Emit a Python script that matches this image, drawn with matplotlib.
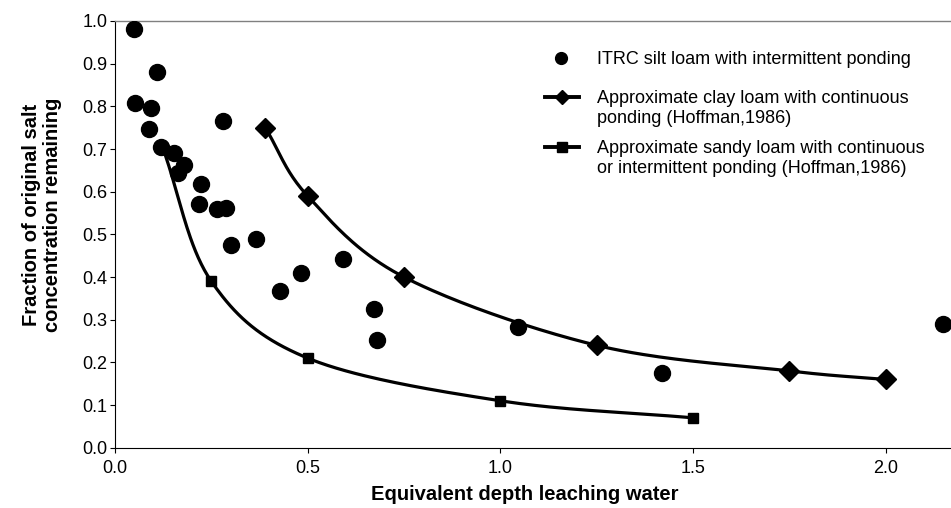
import numpy as np
import matplotlib
matplotlib.use("Agg")
import matplotlib.pyplot as plt
from matplotlib.lines import Line2D

plt.rcParams["font.family"] = ["Liberation Sans", "DejaVu Sans"]

# ── Data ──────────────────────────────────────────────────────────────────────
itrc_x = [0.049, 0.053, 0.093, 0.108, 0.088, 0.120, 0.153, 0.164, 0.179, 0.223,
          0.219, 0.264, 0.288, 0.281, 0.301, 0.365, 0.429, 0.484, 0.592, 0.673,
          0.679, 1.045, 1.420, 2.150]
itrc_y = [0.981, 0.808, 0.797, 0.881, 0.746, 0.704, 0.691, 0.644, 0.662, 0.619,
          0.570, 0.559, 0.562, 0.766, 0.476, 0.490, 0.367, 0.410, 0.443, 0.325,
          0.253, 0.282, 0.175, 0.290]

clay_x = [0.39, 0.50, 0.75, 1.25, 1.75, 2.00]
clay_y = [0.75, 0.59, 0.40, 0.24, 0.18, 0.16]

sandy_x = [0.125, 0.25, 0.50, 1.00, 1.50]
sandy_y = [0.70, 0.39, 0.21, 0.11, 0.07]

labels = [
    "ITRC silt loam with intermittent ponding",
    "Approximate clay loam with continuous\nponding (Hoffman,1986)",
    "Approximate sandy loam with continuous\nor intermittent ponding (Hoffman,1986)",
]

W, H = 951, 508


def smooth(xs, ys, n=40):
    # Catmull-Rom style smoothing of the line between markers (like Excel's smoothed line)
    x = np.asarray(xs, float)
    y = np.asarray(ys, float)
    px = np.concatenate([[2 * x[0] - x[1]], x, [2 * x[-1] - x[-2]]])
    py = np.concatenate([[2 * y[0] - y[1]], y, [2 * y[-1] - y[-2]]])
    out_x, out_y = [], []
    t = np.linspace(0, 1, n)
    for i in range(1, len(px) - 2):
        p0, p1, p2, p3 = (np.array([px[j], py[j]]) for j in range(i - 1, i + 3))
        c1 = p1 + (p2 - p0) / 6
        c2 = p2 - (p3 - p1) / 6
        b = ((1 - t) ** 3)[:, None] * p1 + (3 * (1 - t) ** 2 * t)[:, None] * c1 \
            + (3 * (1 - t) * t ** 2)[:, None] * c2 + (t ** 3)[:, None] * p2
        out_x.extend(b[:, 0])
        out_y.extend(b[:, 1])
    return out_x, out_y


def fx(px):
    return px / W


def fy(py):
    return 1 - py / H


fig = plt.figure(figsize=(W / 100, H / 100), dpi=100)
ax = fig.add_axes([fx(115), fy(447.7), 1 - fx(115), (447.7 - 21) / H])

cx, cy = smooth(clay_x, clay_y)
sx, sy = smooth(sandy_x, sandy_y)
ax.plot(cx, cy, color="black", lw=2.3, zorder=2)
ax.plot(sx, sy, color="black", lw=2.3, zorder=2)
ax.plot(clay_x, clay_y, ls="none", marker="D", ms=10, color="black", zorder=3)
ax.plot(sandy_x, sandy_y, ls="none", marker="s", ms=7.5, color="black", zorder=3)
ax.plot(itrc_x, itrc_y, ls="none", marker="o", ms=11.5, color="black", zorder=4)

ax.set_xlim(0, 2.17)
ax.set_ylim(0, 1.0)
ax.set_xticks([0.0, 0.5, 1.0, 1.5, 2.0])
ax.set_xticklabels(["0.0", "0.5", "1.0", "1.5", "2.0"])
ax.set_yticks(np.arange(0, 1.01, 0.1))
ax.set_yticklabels([f"{v:.1f}" for v in np.arange(0, 1.01, 0.1)])
ax.tick_params(axis="both", labelsize=13, length=3.6, width=0.8, direction="out",
               colors="black")
ax.tick_params(axis="x", pad=5)
ax.tick_params(axis="y", pad=2)

ax.spines["right"].set_visible(False)
ax.spines["top"].set_color("#808080")
ax.spines["top"].set_linewidth(1.0)
ax.spines["left"].set_linewidth(0.8)
ax.spines["bottom"].set_linewidth(0.8)

fig.text(fx(525), fy(494), "Equivalent depth leaching water", fontsize=14.5,
         fontweight="bold", ha="center", va="center")
fig.text(fx(42), fy(215), "Fraction of original salt\nconcentration remaining",
         fontsize=14.5, fontweight="bold", ha="center", va="center", rotation=90,
         linespacing=1.1)

# ── Legend (drawn by hand so handles sit on the first text line) ─────────────
leg_rows = [58, 97, 147]
fig.add_artist(Line2D([fx(561)], [fy(leg_rows[0])], ls="none", marker="o", ms=8.5,
                      color="black", transform=fig.transFigure))
for row, mk, ms in [(leg_rows[1], "D", 7.5), (leg_rows[2], "s", 7)]:
    fig.add_artist(Line2D([fx(545), fx(579)], [fy(row), fy(row)], lw=2.8, color="black",
                          transform=fig.transFigure))
    fig.add_artist(Line2D([fx(562)], [fy(row)], ls="none", marker=mk, ms=ms,
                          color="black", transform=fig.transFigure))
for row, lab in zip(leg_rows, labels):
    fig.text(fx(597), fy(row - 7), lab, fontsize=13, ha="left", va="top",
             linespacing=1.22)

plt.savefig("out.png", dpi=100)
plt.close()
